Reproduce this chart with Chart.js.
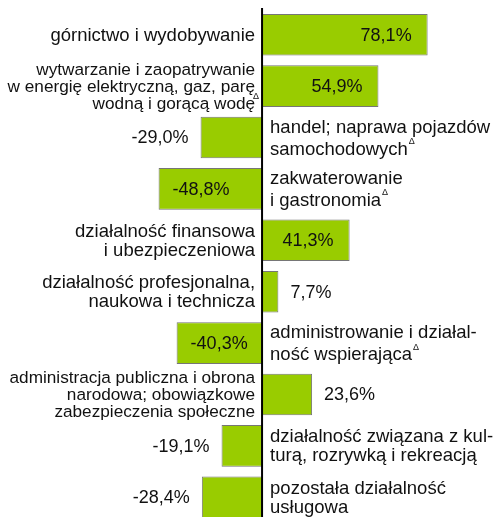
<!DOCTYPE html>
<html>
<head>
<meta charset="utf-8">
<script src="https://cdn.jsdelivr.net/npm/chart.js@4"></script>
<style>
  body { margin: 0; overflow: hidden; background: #fff; }
</style>
</head>
<body>
<canvas id="wykres" width="494" height="523"></canvas>
<script>
// Sekcje PKD (etykiety w wierszach)
const kategorie = [
    ['górnictwo i wydobywanie'],
    ['wytwarzanie i zaopatrywanie', 'w energię elektryczną, gaz, parę', 'wodną i gorącą wodę'],
    ['handel; naprawa pojazdów', 'samochodowych'],
    ['zakwaterowanie', 'i gastronomia'],
    ['działalność finansowa', 'i ubezpieczeniowa'],
    ['działalność profesjonalna,', 'naukowa i technicza'],
    ['administrowanie i działal-', 'ność wspierająca'],
    ['administracja publiczna i obrona', 'narodowa; obowiązkowe', 'zabezpieczenia społeczne'],
    ['działalność związana z kul-', 'turą, rozrywką i rekreacją'],
    ['pozostała działalność', 'usługowa']
];
// Zmiana w %
const wartosci = [78.1, 54.9, -29.0, -48.8, 41.3, 7.7, -40.3, 23.6, -19.1, -28.4];
// Znak Δ przy nazwie
const przypis = [false, true, true, true, false, false, true, false, false, false];

const FONT = '"Liberation Sans", Arial, sans-serif';

function formatuj(v) {
    return v.toFixed(1).replace('.', ',') + '%';
}

// Plugin rysujący oś zero, opisy kategorii i wartości
const opisy = {
    id: 'opisy',
    afterDatasetsDraw(chart) {
        const ctx = chart.ctx;
        const x = chart.scales.x;
        const meta = chart.getDatasetMeta(0);
        const x0 = x.getPixelForValue(0);

        ctx.save();
        // linia zera
        ctx.strokeStyle = '#000';
        ctx.lineWidth = 2;
        ctx.beginPath();
        ctx.moveTo(x0, chart.chartArea.top - 1);
        ctx.lineTo(x0, chart.height);
        ctx.stroke();

        ctx.fillStyle = '#111';
        ctx.textBaseline = 'middle';

        meta.data.forEach((bar, i) => {
            const v = wartosci[i];
            const y = bar.y;
            const koniec = x.getPixelForValue(v);

            // wartość
            ctx.font = '18px ' + FONT;
            let tx, align;
            if (Math.abs(v) > 35) {
                if (v > 0) { tx = koniec - 16; align = 'right'; }
                else { tx = koniec + 14; align = 'left'; }
            } else {
                if (v > 0) { tx = koniec + 12; align = 'left'; }
                else { tx = koniec - 12; align = 'right'; }
            }
            ctx.textAlign = align;
            ctx.fillText(formatuj(v), tx, y + 1);

            // nazwa kategorii po drugiej stronie osi
            const linie = kategorie[i];
            const lewa = v > 0;
            const trzy = linie.length > 2;
            const rozmiar = trzy ? 17.2 : 18.5;
            let lh = trzy ? 17 : 19;
            if (!lewa && przypis[i]) lh = 22;
            const startY = y - (linie.length - 1) * lh / 2;
            const lx = lewa ? x0 - 7 : x0 + 8;
            linie.forEach((t, j) => {
                const ly = startY + j * lh + 1;
                ctx.font = rozmiar + 'px ' + FONT;
                ctx.textAlign = lewa ? 'right' : 'left';
                ctx.fillText(t, lx, ly);
                if (przypis[i] && j === linie.length - 1) {
                    const w = ctx.measureText(t).width;
                    ctx.font = '9px ' + FONT;
                    ctx.textAlign = 'left';
                    const dx = lewa ? lx - 2 : lx + w + 1;
                    ctx.fillText('Δ', dx, ly - 8);
                }
            });
        });
        ctx.restore();
    }
};

new Chart(document.getElementById('wykres'), {
    type: 'bar',
    data: {
        labels: kategorie.map(k => k.join(' ')),
        datasets: [{
            data: wartosci,
            backgroundColor: '#99cc00',
            borderColor: '#767676',
            borderWidth: 1,
            borderSkipped: 'start',
            barPercentage: 0.81,
            categoryPercentage: 1
        }]
    },
    options: {
        indexAxis: 'y',
        responsive: false,
        animation: false,
        layout: { padding: { top: 9, left: 0, right: 0, bottom: 0 } },
        plugins: {
            legend: { display: false },
            tooltip: { enabled: false }
        },
        scales: {
            x: { display: false, min: -123.6, max: 109.4 },
            y: { display: false }
        }
    },
    plugins: [opisy]
});
</script>
</body>
</html>
